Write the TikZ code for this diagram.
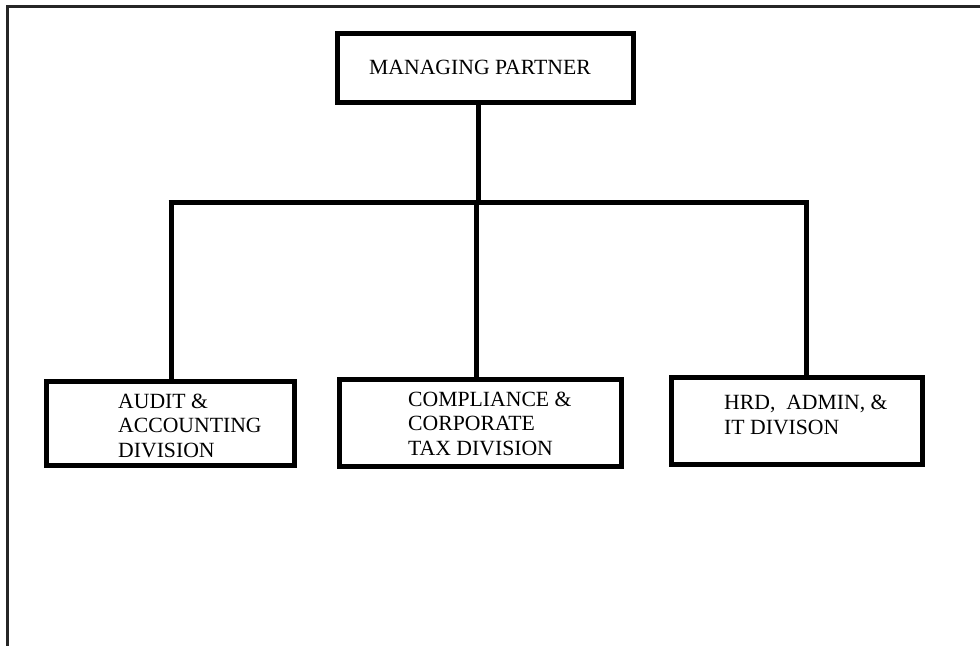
\documentclass[tikz,border=0pt]{standalone}
\usepackage{fontspec}
\setmainfont{Liberation Serif}
\begin{document}
\begin{tikzpicture}[x=1pt,y=-1pt,
  orgbox/.style={draw=black, line width=5pt, inner sep=0pt, outer sep=0pt},
  orgtext/.style={anchor=base west, inner sep=0pt, align=left,
    font=\fontsize{21.7}{24.5}\selectfont},
  link/.style={draw=black, line width=5pt},
  frameline/.style={draw=black!85, line width=2.5pt}]
\useasboundingbox (0,0) rectangle (980,646);
% page frame (top and left edges only)
\coordinate (ftl) at (7.5,6.5);
\coordinate (ftr) at (980,6.5);
\coordinate (fbl) at (7.5,646);
\draw[frameline] (ftr) -- (ftl) -- (fbl);
% boxes
\node[orgbox, minimum width=296pt, minimum height=69pt] (mp) at (485,67.5) {};
\node[orgbox, minimum width=248pt, minimum height=84pt] (audit) at (170,423) {};
\node[orgbox, minimum width=282pt, minimum height=87pt] (comp) at (480,422.5) {};
\node[orgbox, minimum width=251pt, minimum height=87pt] (hrd) at (796.5,420.5) {};
% texts (base anchor = baseline of the last line)
\node[orgtext] (mpt) at (369,74) {MANAGING PARTNER};
\node[orgtext] (auditt) at (118,457) {AUDIT \&\\ACCOUNTING\\DIVISION};
\node[orgtext] (compt) at (408,455) {COMPLIANCE \&\\CORPORATE\\TAX DIVISION};
\node[orgtext] (hrdt) at (724,434) {HRD,\ \ ADMIN, \&\\IT DIVISON};
% connectors
\coordinate (mpdrop) at (478,202);
\coordinate (busl) at (171,202);
\coordinate (busc) at (476,202);
\coordinate (busr) at (806,202);
\draw[link] (mp.south -| mpdrop) -- (mpdrop);
\draw[link] ([xshift=-2.5pt]busl) -- ([xshift=2.5pt]busr);
\draw[link] (busl) -- (busl |- audit.north);
\draw[link] (busc) -- (busc |- comp.north);
\draw[link] (busr) -- (busr |- hrd.north);
\end{tikzpicture}
\end{document}
